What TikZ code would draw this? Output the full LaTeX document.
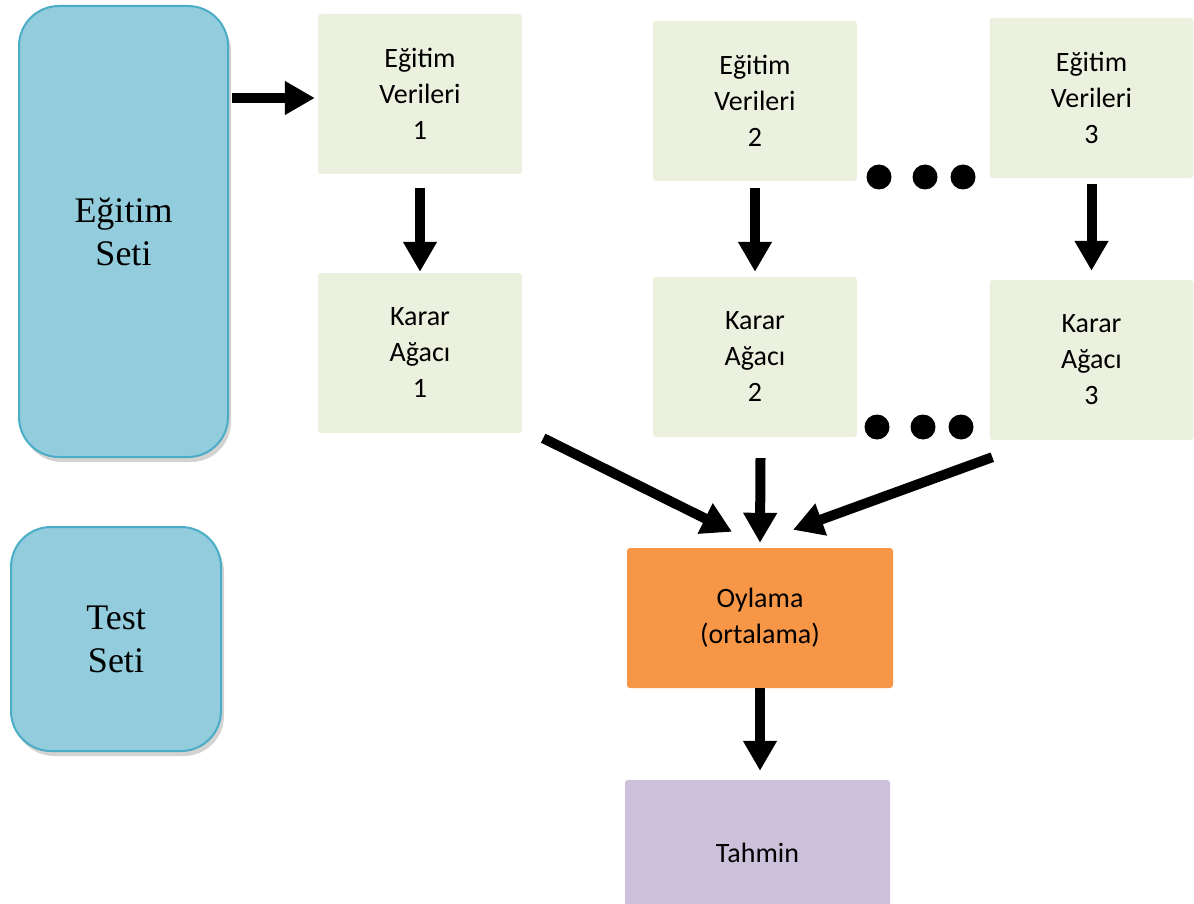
\documentclass[tikz,border=0pt]{standalone}
\usepackage{fontspec}
\setmainfont{Carlito}
\newfontfamily\tnr{Liberation Serif}
\usetikzlibrary{arrows.meta,shadows}
\definecolor{setblue}{HTML}{93CDDD}
\definecolor{setedge}{HTML}{4BACC6}
\definecolor{verirenk}{HTML}{EBF1DE}
\definecolor{oyrenk}{HTML}{F79646}
\definecolor{tahrenk}{HTML}{CCC1DA}
\newcommand{\dotsize}{25pt}

\begin{document}
\begin{tikzpicture}[x=1pt,y=-1pt,
    kume/.style={draw=setedge, line width=2pt, fill=setblue, rounded corners=40pt, align=center,
      font=\tnr\fontsize{36}{43}\selectfont,
      drop shadow={shadow xshift=3pt, shadow yshift=-5pt, opacity=.35}},
    kutu/.style={fill=verirenk, rounded corners=3pt, align=center, inner sep=0pt,
      minimum width=204pt, minimum height=160pt, font=\fontsize{28}{36}\selectfont},
    ok/.style={line width=10pt, -{Triangle[width=32pt,length=30pt]}}]

      \useasboundingbox (0,0) rectangle (1194,904);
      \clip (0,0) rectangle (1194,904);

          %%  Egitim ve test kumeleri %%
      \node (es) at (123.5,231.5) [kume, minimum width=209pt, minimum height=451pt] {Eğitim\\Seti};
      \node (ts) at (116,639) [kume, minimum width=210pt, minimum height=224pt] {Test\\Seti};

          %%  Veri alt kumeleri ve agaclar %%
      \foreach \i/\x/\y/\z in {1/420/94/353, 2/755/101/357, 3/1091.5/98/360}
      { \node (ev\i) at (\x,\y) [kutu] {Eğitim\\Verileri\\\i};
        \node (ka\i) at (\x,\z) [kutu] {Karar\\Ağacı\\\i};}

      \foreach \i/\a/\b in {1/14/1, 2/7/5, 3/6/9}
      { \draw[ok, shorten <=\a pt, shorten >=\b pt] (ev\i.south) to (ev\i.south |- ka\i.north);}

      \foreach \i/\x in {1/879, 2/925, 3/963}
      { \node (nu\i) at (\x,177) [circle, fill, inner sep=0pt, minimum size=\dotsize] {};}
      \foreach \i/\x in {1/877, 2/923, 3/961}
      { \node (na\i) at (\x,427) [circle, fill, inner sep=0pt, minimum size=\dotsize] {};}

      \coordinate (gir) at ([yshift=-4pt]ev1.west);
      \draw[ok, shorten <=3pt, shorten >=3pt] (es.east |- gir) to (gir);

          %%  Oylama %%
      \node (oy) at (760,618) [kutu, fill=oyrenk, minimum width=266pt, minimum height=140pt] {Oylama\\(ortalama)};
      \node (ta) at (757.5,853) [kutu, fill=tahrenk, minimum width=265pt, minimum height=146pt] {Tahmin};

      \draw[ok] ([xshift=21pt,yshift=-5pt]ka1.south east) to ([xshift=-28pt,yshift=16pt]oy.north);
      \draw[ok] ([xshift=5.5pt,yshift=-21pt]ka2.south) to ([yshift=5pt]oy.north);
      \draw[ok] ([xshift=3pt,yshift=-17pt]ka3.south west) to ([xshift=33pt,yshift=18pt]oy.north);
      \draw[ok, shorten >=9pt] (oy.south) to (oy.south |- ta.north);

\end{tikzpicture}
\end{document}
